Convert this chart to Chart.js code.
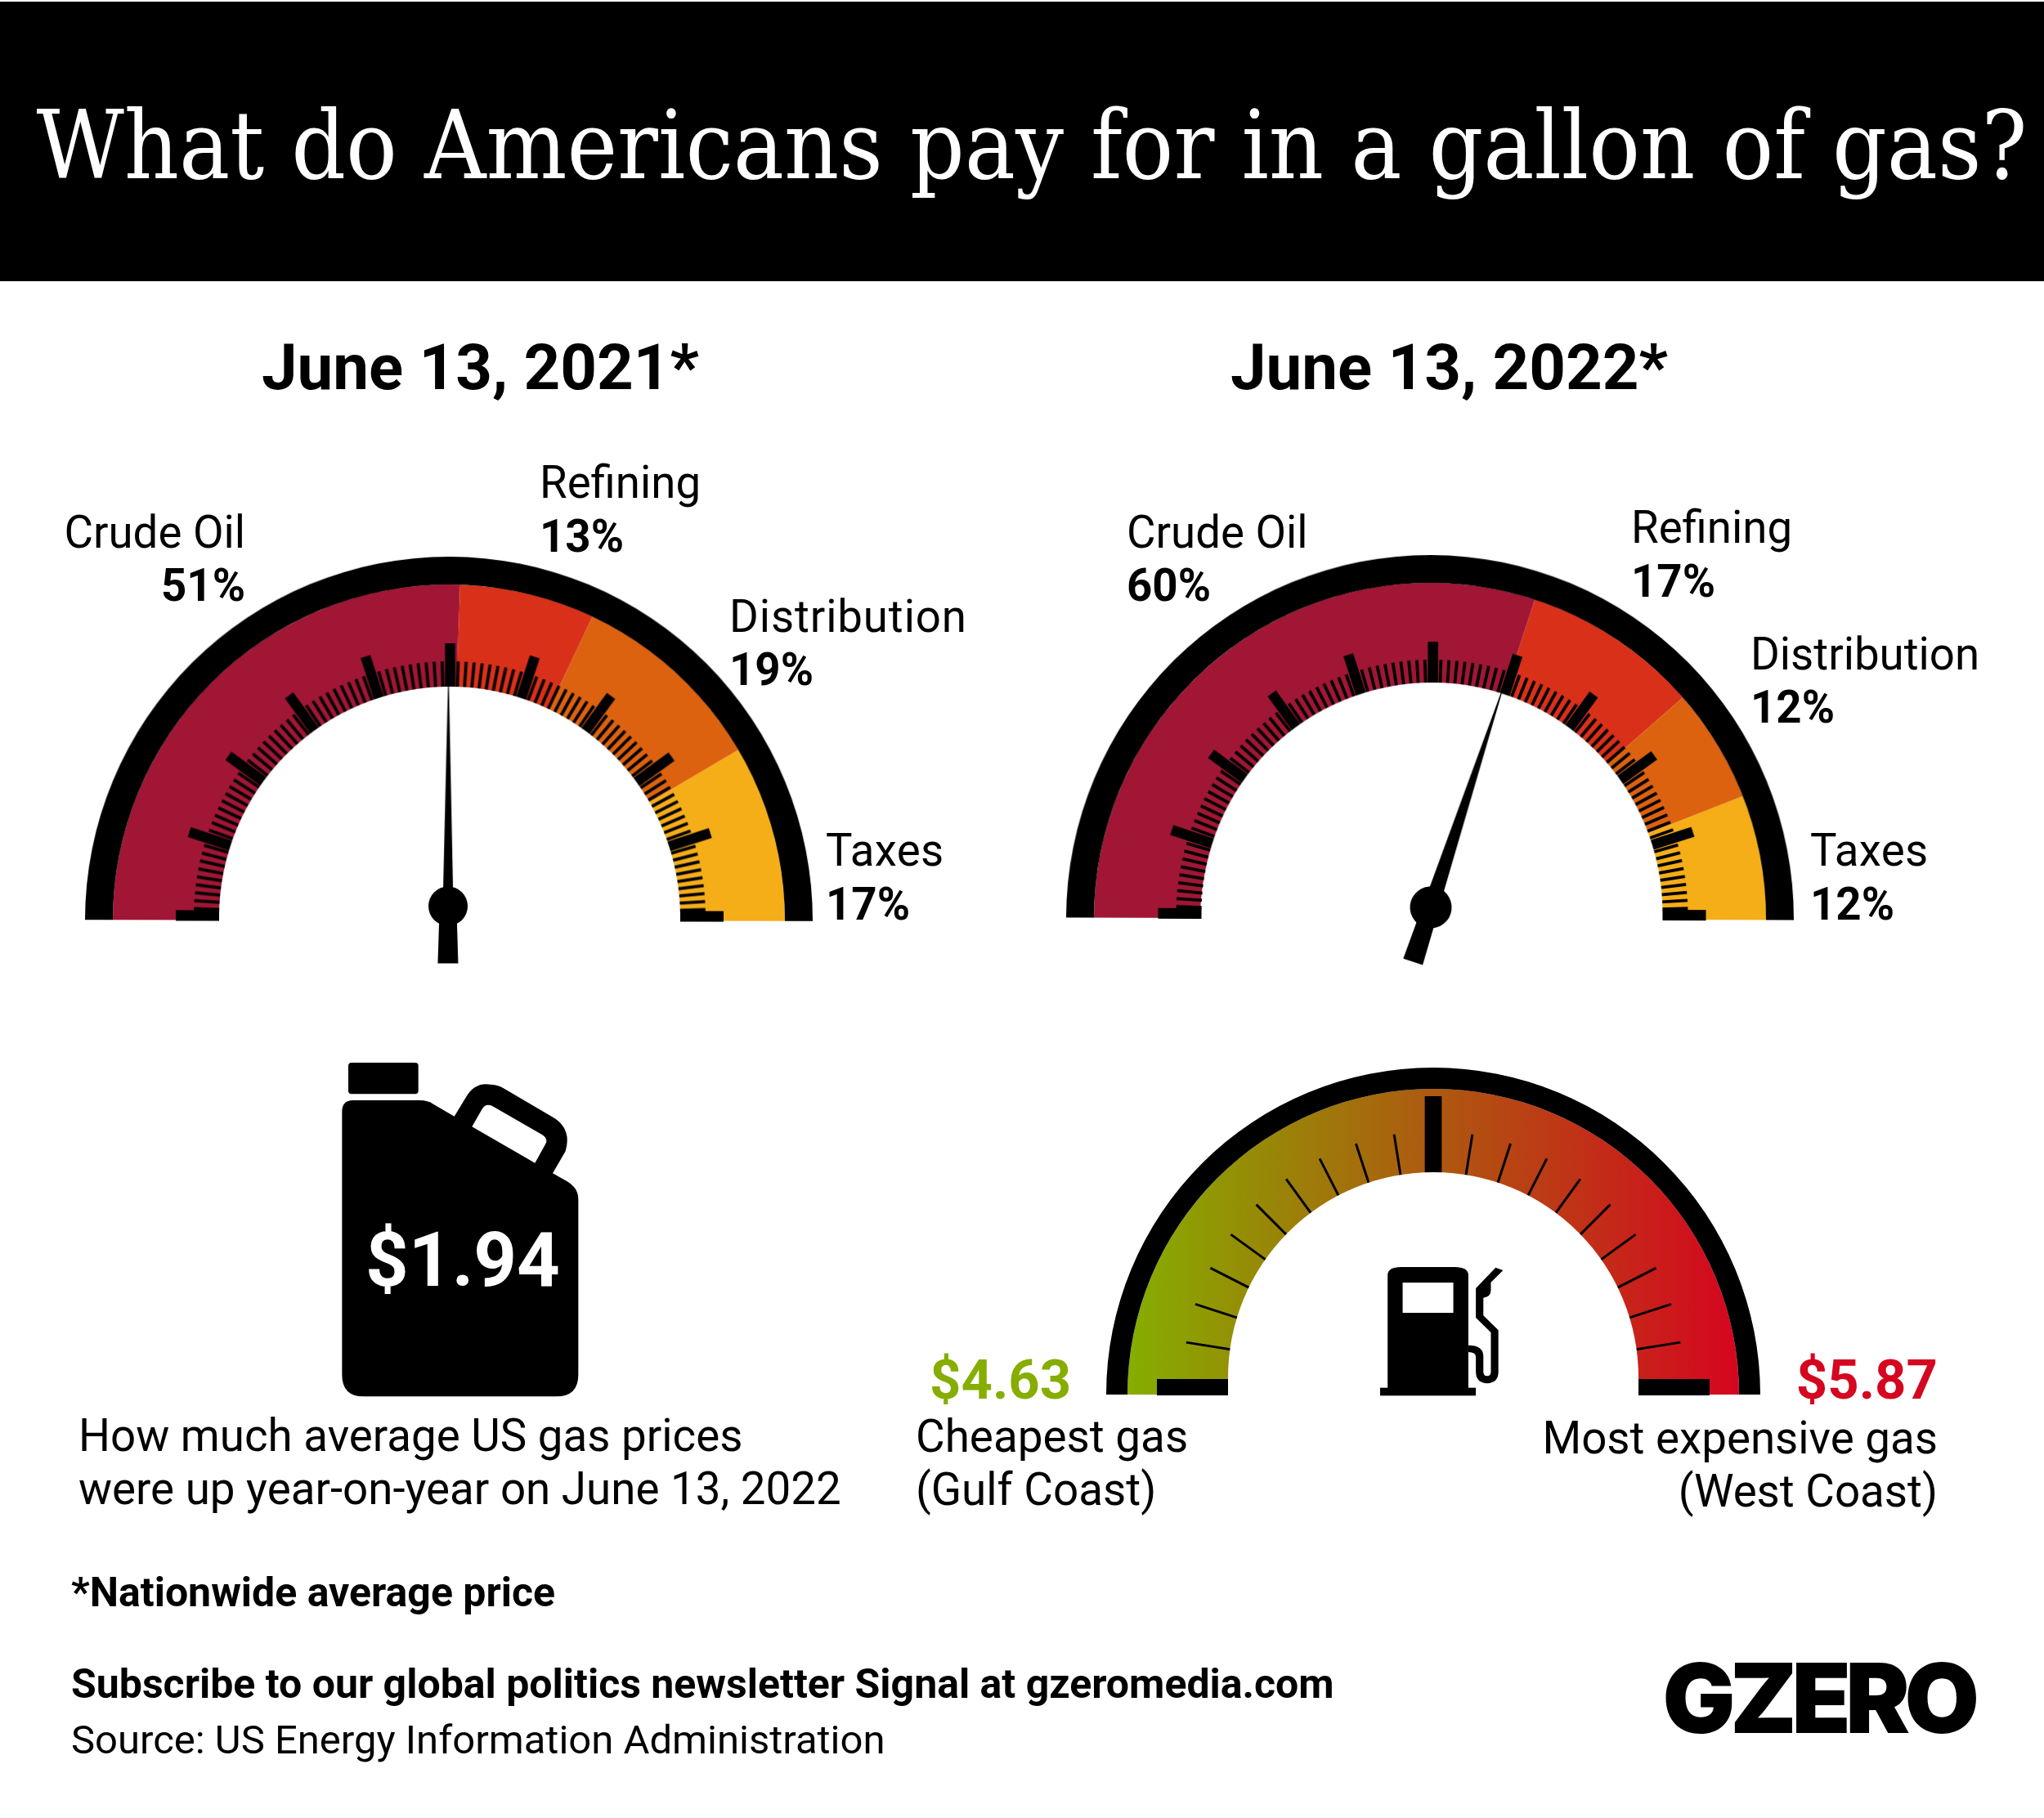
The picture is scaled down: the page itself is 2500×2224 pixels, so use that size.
<!DOCTYPE html>
<html>
<head>
<meta charset="utf-8">
<title>What do Americans pay for in a gallon of gas?</title>
<script src="https://cdn.jsdelivr.net/npm/chart.js@4"></script>
<style>
    html, body { margin: 0; padding: 0; background: #fff; }
    #page { position: relative; width: 2500px; height: 2224px; overflow: hidden; background: #fff; font-family: Roboto, sans-serif; color: #000; }
    #banner { position: absolute; left: 0; top: 2px; width: 2500px; height: 342px; background: #000; }
    canvas { position: absolute; }
    svg { position: absolute; }
    .txt { position: absolute; line-height: 1; white-space: nowrap; }
</style>
</head>
<body>
<div id="page">
    <div id="banner"></div>
    <canvas id="gauge2021"></canvas>
    <canvas id="gauge2022"></canvas>
    <canvas id="gaugePrices"></canvas>

    <!-- jerry can -->
    <svg style="left:380px;top:1280px" width="380" height="450" viewBox="0 0 1140 1350">
        <rect x="138" y="60" width="257" height="115" rx="12"/>
        <path fill-rule="evenodd" d="M115 240 Q115 198 155 198 L400 198 Q430 198 450 212 L527 257 L568 190 Q600 130 660 140 Q690 142 710 155 L885 258 Q960 300 935 385 L888 466 L940 495 Q982 520 982 560 L982 1205 Q982 1285 900 1285 L195 1285 Q115 1285 115 1205 Z
            M592 295 L628 232 Q640 208 665 218 L850 325 Q872 340 862 358 L823 428 Z"/>
    </svg>

    <!-- fuel pump -->
    <svg style="left:1300px;top:1280px" width="900" height="460" viewBox="0 0 1568 1380" preserveAspectRatio="none">
        <rect x="676" y="1253" width="204" height="29"/>
        <path fill-rule="evenodd" d="M692 1255 L692 840 Q692 810 720 810 L835 810 Q864 810 864 840 L864 1255 Z M724 867 L724 978 L832 978 L832 867 Z"/>
        <path d="M922 812 L938 822 L912 866 L912 895 Q912 920 896 923 L896 988 L928 1042 L928 1195 Q928 1235 904 1237 Q880 1235 880 1195 L880 1140 Q880 1122 864 1122 L864 1097 Q895 1097 896 1135 L896 1195 Q896 1210 904 1210 Q912 1210 912 1195 L912 1050 L880 996 L880 888 Z"/>
    </svg>
</div>

<script>
// ==========================================
// DATA
// ==========================================
const categories = ['Crude Oil', 'Refining', 'Distribution', 'Taxes'];
const categoryColors = ['#a01634', '#d9301a', '#dc6210', '#f5ad18'];

const labels2021 = ['51%', '13%', '19%', '17%'];
const labels2022 = ['60%', '17%', '12%', '12%'];

// arc sizes (the printed 2022 shares add up to 101)
const shares2021 = [51, 13, 19, 17];
const shares2022 = [60, 17, 11, 12];

const needle2021 = 50;
const needle2022 = 60;

const cheapestPrice = 4.63;
const highestPrice = 5.87;
const yearOnYearRise = 1.94;

// ==========================================
// GAUGE DRESSING (ticks, hole, needle, hub)
// ==========================================
function gaugePlugin(cfg) {
    return {
        id: 'gaugeDress',
        afterDatasetsDraw(chart) {
            const ctx = chart.ctx;
            const arc = chart.getDatasetMeta(0).data[0];
            const cx = arc.x;
            const cy = arc.y;
            const tx = cx + cfg.tickDx;
            const ty = cy + cfg.tickDy;
            const t = cfg.ticks;

            ctx.save();
            ctx.fillStyle = '#000';

            // tick marks of the 0-100 dial
            for (let i = 1; i < t.count; i++) {
                const major = i % t.majorEvery === 0;
                const a = Math.PI * (1 + i / t.count);
                const rOut = major ? t.majorR : t.minorR;
                const w = major ? t.majorW : t.minorW;
                ctx.save();
                ctx.translate(tx, ty);
                ctx.rotate(a);
                ctx.fillRect(t.hole - 25, -w / 2, rOut - t.hole + 25, w);
                ctx.restore();
            }

            // hole sits a little above the arc centre in the original
            ctx.fillStyle = '#fff';
            ctx.beginPath();
            ctx.arc(tx, cy + cfg.holeDy, t.hole, 0, Math.PI * 2);
            ctx.fill();
            ctx.fillRect(tx - t.hole, cy + cfg.holeDy, t.hole * 2, chart.height);

            // the two flat end ticks
            ctx.fillStyle = '#000';
            const endW = t.endW;
            const endLen = t.endR - t.hole;
            ctx.fillRect(tx - t.endR, cy - endW + 1, endLen, endW);
            ctx.fillRect(tx + t.hole, cy - endW + 1, endLen, endW);

            // needle
            if (cfg.needle !== undefined) {
                const hx = cx + cfg.hubDx;
                const hy = cy + cfg.hubDy;
                const a = Math.PI * (cfg.needle / 100 - 0.5);
                ctx.save();
                ctx.translate(hx, hy);
                ctx.rotate(a);
                ctx.beginPath();
                ctx.moveTo(-0.6, -cfg.needleLen);
                ctx.lineTo(0.6, -cfg.needleLen);
                ctx.lineTo(cfg.needleBase / 2, -cfg.hubR + 2);
                ctx.lineTo(cfg.needleTail / 2 - 1.5, cfg.hubR - 2);
                ctx.lineTo(cfg.needleTail / 2, 70);
                ctx.lineTo(-cfg.needleTail / 2, 70);
                ctx.lineTo(-cfg.needleTail / 2 + 1.5, cfg.hubR - 2);
                ctx.lineTo(-cfg.needleBase / 2, -cfg.hubR + 2);
                ctx.closePath();
                ctx.fill();
                ctx.beginPath();
                ctx.arc(0, 0, cfg.hubR, 0, Math.PI * 2);
                ctx.fill();
                ctx.restore();
            }
            ctx.restore();
        }
    };
}

function makeGauge(id, box, ringWeight, bandWeight, bandData, bandColors, cfg) {
    const canvas = document.getElementById(id);
    canvas.width = box.size * 2;
    canvas.height = box.size + 80;
    canvas.style.left = (box.cx - box.size) + 'px';
    canvas.style.top = (box.cy - box.size) + 'px';
    canvas.style.width = canvas.width + 'px';
    canvas.style.height = canvas.height + 'px';
    // the dials in the original sit slightly crooked
    if (box.tilt) {
        canvas.style.transformOrigin = box.size + 'px ' + box.size + 'px';
        canvas.style.transform = 'rotate(' + box.tilt + 'deg)';
    }

    return new Chart(canvas.getContext('2d'), {
        type: 'doughnut',
        data: {
            labels: categories.slice(0, bandData.length),
            datasets: [
                { data: [1], backgroundColor: ['#000'], weight: ringWeight, borderWidth: 0 },
                { data: bandData, backgroundColor: bandColors, weight: bandWeight, borderWidth: 0 }
            ]
        },
        options: {
            responsive: false,
            devicePixelRatio: 1,
            animation: false,
            rotation: -90,
            circumference: 180,
            cutout: (100 * (box.size - ringWeight - bandWeight) / box.size) + '%',
            hoverOffset: 0,
            layout: { padding: { bottom: 80 } },
            plugins: { legend: { display: false }, tooltip: { enabled: false } }
        },
        plugins: [gaugePlugin(cfg)]
    });
}

const dialTicks = { count: 100, majorEvery: 10, majorR: 335, minorR: 313, majorW: 12.5, minorW: 3.8, hole: 282, endR: 335, endW: 13 };

makeGauge('gauge2021', { cx: 549, cy: 1126, size: 445, tilt: 0.1 }, 34, 130, shares2021, categoryColors, {
    ticks: dialTicks, tickDx: 1, tickDy: -4, holeDy: -4,
    needle: needle2021, hubDx: -1, hubDy: -17.5, hubR: 24, needleLen: 269, needleBase: 12, needleTail: 25
});

makeGauge('gauge2022', { cx: 1749, cy: 1124, size: 445, tilt: 0.2 }, 34, 130, shares2022, categoryColors, {
    ticks: dialTicks, tickDx: 2.5, tickDy: -4, holeDy: -7,
    needle: needle2022, hubDx: 1, hubDy: -14, hubR: 25.5, needleLen: 276, needleBase: 18, needleTail: 25
});

// price gauge: one arc from the cheapest to the dearest price, gradient fill
const priceCanvas = document.getElementById('gaugePrices');
const priceGradient = priceCanvas.getContext('2d').createLinearGradient(30, 0, 770, 0);
priceGradient.addColorStop(0, '#86ad00');
priceGradient.addColorStop(1, '#d5061f');

makeGauge('gaugePrices', { cx: 1753, cy: 1706, size: 400 }, 26, 123, [highestPrice - cheapestPrice], [priceGradient], {
    ticks: { count: 20, majorEvery: 10, majorR: 349, minorR: 306, majorW: 20.7, minorW: 3, hole: 251, endR: 338, endW: 20 },
    tickDx: 0, tickDy: -16, holeDy: -21
});

// ==========================================
// TEXT
// ==========================================
const page = document.getElementById('page');

function addText(str, x, baseline, size, opts) {
    opts = opts || {};
    const el = document.createElement('div');
    el.className = 'txt';
    el.textContent = str;
    el.style.fontSize = size + 'px';
    el.style.top = (baseline - size * (opts.ascent || 0.8415)) + 'px';
    if (opts.bold) el.style.fontWeight = opts.bold === true ? '700' : opts.bold;
    if (opts.color) el.style.color = opts.color;
    if (opts.family) el.style.fontFamily = opts.family;
    if (opts.stretch) el.style.fontStretch = opts.stretch;
    if (opts.spacing) el.style.letterSpacing = opts.spacing + 'px';
    if (opts.align === 'right') el.style.right = (2500 - x) + 'px';
    else if (opts.align === 'center') { el.style.left = x + 'px'; el.style.transform = 'translateX(-50%)'; }
    else el.style.left = x + 'px';
    page.appendChild(el);
}

addText('What do Americans pay for in a gallon of gas?', 1262, 218, 116, {
    align: 'center', color: '#fff', family: '"DejaVu Serif Condensed", "DejaVu Serif", serif', stretch: 'condensed', ascent: 0.846
});

addText('June 13, 2021*', 320, 477, 78, { bold: true });
addText('June 13, 2022*', 1505, 477, 78, { bold: true });

const labelSize = 54.6;
const tracking2021 = [0, 0, 0.9, 0.3];
const tracking2022 = [0, 0, 0, 0.3];
const spots2021 = [[300, 670, 735, 'right'], [660, 609, 675], [892, 773, 838], [1010, 1059, 1125]];
const spots2022 = [[1378, 670, 735], [1995, 664, 730], [2141, 819, 884], [2214, 1059, 1125]];

categories.forEach((name, i) => {
    let s = spots2021[i];
    addText(name, s[0], s[1], labelSize, { align: s[3], spacing: tracking2021[i] });
    addText(labels2021[i], s[0], s[2], labelSize, { align: s[3], bold: true });
    s = spots2022[i];
    addText(name, s[0], s[1], labelSize, { align: s[3], spacing: tracking2022[i] });
    addText(labels2022[i], s[0], s[2], labelSize, { align: s[3], bold: true });
});

addText('$' + yearOnYearRise.toFixed(2), 566, 1573, 92, { bold: true, color: '#fff', align: 'center' });

addText('How much average US gas prices', 96, 1775, 54.7);
addText('were up year-on-year on June 13, 2022', 96, 1840, 54.7);

addText('$' + cheapestPrice.toFixed(2), 1137, 1711, 67, { bold: true, color: '#86ad00' });
addText('Cheapest gas', 1120, 1776, 54.8);
addText('(Gulf Coast)', 1120, 1841, 54.8);

addText('$' + highestPrice.toFixed(2), 2370, 1711, 67, { bold: true, color: '#d5061f', align: 'right' });
addText('Most expensive gas', 2370, 1778, 54.7, { align: 'right' });
addText('(West Coast)', 2370, 1843, 54.7, { align: 'right' });

addText('*Nationwide average price', 87, 1965, 50, { bold: true });
addText('Subscribe to our global politics newsletter Signal at gzeromedia.com', 87, 2077, 50, { bold: true });
addText('Source: US Energy Information Administration', 87, 2145, 49);

addText('GZERO', 2224, 2118, 118, { bold: '900', align: 'center', family: 'Inter, Roboto, sans-serif', ascent: 0.85, spacing: -6.5 });
</script>
</body>
</html>
